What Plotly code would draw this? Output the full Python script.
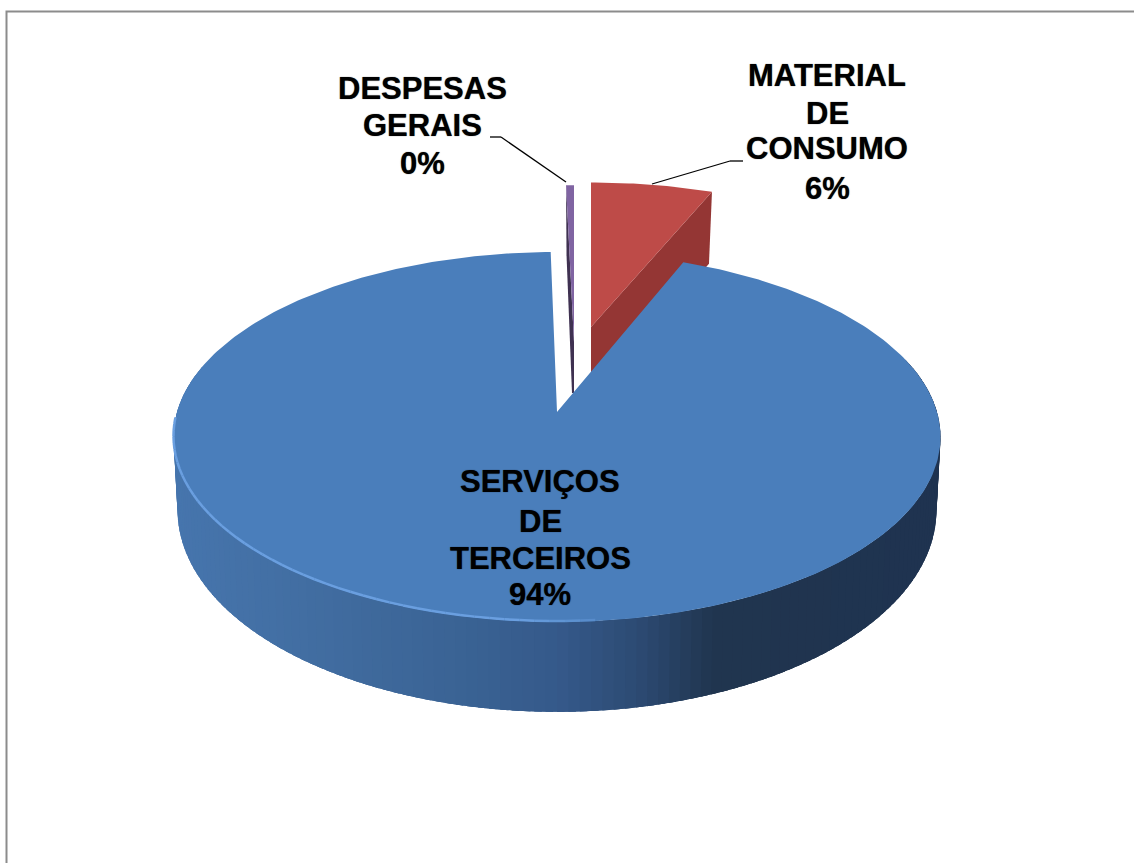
import numpy as np
import plotly.graph_objects as go

category_lines = [["MATERIAL", "DE", "CONSUMO"], ["SERVIÇOS", "DE", "TERCEIROS"], ["DESPESAS", "GERAIS"]]
values = [6.1, 93.6, 0.3]
top_colors = ["#BE4B48", "#4A7EBB", "#8064A2"]
face_colors = ["#943634", "#264466", "#3F3151"]

K = 0.135
FONT = dict(family="Liberation Sans, Arial, sans-serif", size=31, color="#000000",
            shadow="0 0 1px rgba(0,0,0,0.75)")

# cumulative clockwise angles from 12 o'clock
edges = np.cumsum([0.0] + values) / sum(values) * 360.0
spans = {"red": (edges[0], edges[1]), "blue": (edges[1], edges[2]), "purple": (edges[2], edges[3])}


def proj(theta_deg, r, ax, ay, A, B, k=K):
    t = np.radians(theta_deg)
    u, v = r * np.sin(t), r * np.cos(t)
    d = 1 + k * v
    return ax + A * u / d, ay - B * v / d


def blue_top(theta):
    return proj(theta, 1.0, 557, 412, 380, 181.6)


def blue_bottom(theta):
    return proj(theta, 1.0, 557, 483, 376, 198)


def lerp_hex(stops, x):
    xs = [s[0] for s in stops]
    rgb = [np.interp(x, xs, [int(s[1][i:i + 2], 16) for s in stops]) for i in (1, 3, 5)]
    return "rgb(%d,%d,%d)" % tuple(int(round(c)) for c in rgb)


side_stops = [(174, "#4675AD"), (300, "#426EA2"), (460, "#3A6394"),
              (560, "#35598A"), (640, "#2C4A72"), (715, "#20354F"), (945, "#1F3350")]

fig = go.Figure()


def poly(xs, ys, color):
    fig.add_trace(go.Scatter(x=list(xs), y=list(ys), mode="lines", fill="toself", fillcolor=color,
                             line=dict(color=color, width=0), hoverinfo="skip", showlegend=False))


# --- purple sliver (behind) ---
a0, a1 = spans["purple"]
th = np.linspace(a0, a1, 4)
rx, ry = proj(th, 1.0, 574, 342, 480, 178)
poly([rx[0], rx[0] + 0.5, 572, 574, 574], [ry[0], ry[0] + 70, 393, 393, 342], face_colors[2])
poly(np.r_[574, rx], np.r_[342, ry], top_colors[2])

# --- red slice ---
a0, a1 = spans["red"]
th = np.linspace(a0, a1, 30)
rx, ry = proj(th, 1.0, 591, 327, 364, 164)
poly([591, rx[-1], rx[-1] - 3, 591], [327, ry[-1], ry[-1] + 72, 400], face_colors[0])
poly(np.r_[591, rx], np.r_[327, ry], top_colors[0])

# --- blue side wall: each strip overlaps the next so no seams show ---
th = np.linspace(285, 75, 141)
for t0, t1 in zip(th[:-1], th[1:]):
    tt = np.linspace(t0, t1 - 2.5, 4)
    x0, y0 = blue_top(tt)
    x1, y1 = blue_bottom(tt)
    xa, _ = blue_top(np.array([t0, t1]))
    c = lerp_hex(side_stops, xa.mean())
    poly(np.r_[x0, x1[::-1]], np.r_[y0, y1[::-1]], c)

# --- blue top ---
a0, a1 = spans["blue"]
th = np.linspace(a0, a1, 360)
rx, ry = blue_top(th)
poly(np.r_[557, rx], np.r_[412, ry], top_colors[1])

# rim highlight along front-left edge
th = np.linspace(175, 268, 48)
for t0, t1 in zip(th[:-1], th[1:]):
    tt = np.linspace(t0, t1, 3)
    x, y = blue_top(tt)
    fade = np.clip((640 - x.mean()) / 120, 0, 1)
    col = lerp_hex([(0, "#4A7EBB"), (1, "#6A9FE0")], fade)
    fig.add_trace(go.Scatter(x=x, y=y - 1, mode="lines", line=dict(color=col, width=2.5),
                             hoverinfo="skip", showlegend=False))

# --- labels: one annotation per line, as the original line pitch is tighter than Plotly's ---
pct = [f"{round(v)}%" for v in values]
label_x = [827, 540, 422]
label_y = [[75, 113, 148, 188], [481, 521, 558, 594], [88, 125, 163]]
for lines, p, lx, ys in zip(category_lines, pct, label_x, label_y):
    for txt, ly in zip(lines + [p], ys):
        fig.add_annotation(x=lx, y=ly, text=f"<b>{txt}</b>", showarrow=False, font=FONT,
                           align="center", xanchor="center", yanchor="middle")

leaders = [[(490, 137), (501, 137), (566, 182)], [(743, 161), (730, 161), (652, 184)]]
shapes = []
for pts in leaders:
    for (x0, y0), (x1, y1) in zip(pts[:-1], pts[1:]):
        shapes.append(dict(type="line", x0=x0, y0=y0, x1=x1, y1=y1, line=dict(color="#000000", width=1.3)))
shapes.append(dict(type="rect", x0=6.5, y0=11.5, x1=1600, y1=1200, line=dict(color="#8C8C8C", width=2),
                   fillcolor="rgba(0,0,0,0)"))

fig.update_layout(
    width=1134, height=863, margin=dict(l=0, r=0, t=0, b=0),
    paper_bgcolor="#FFFFFF", plot_bgcolor="#FFFFFF", showlegend=False, shapes=shapes,
    xaxis=dict(range=[0, 1134], visible=False, fixedrange=True),
    yaxis=dict(range=[863, 0], visible=False, fixedrange=True),
)
fig.write_html("out.html", config={"displayModeBar": False},
               post_script="document.body.style.margin='0';document.body.style.overflow='hidden';")
